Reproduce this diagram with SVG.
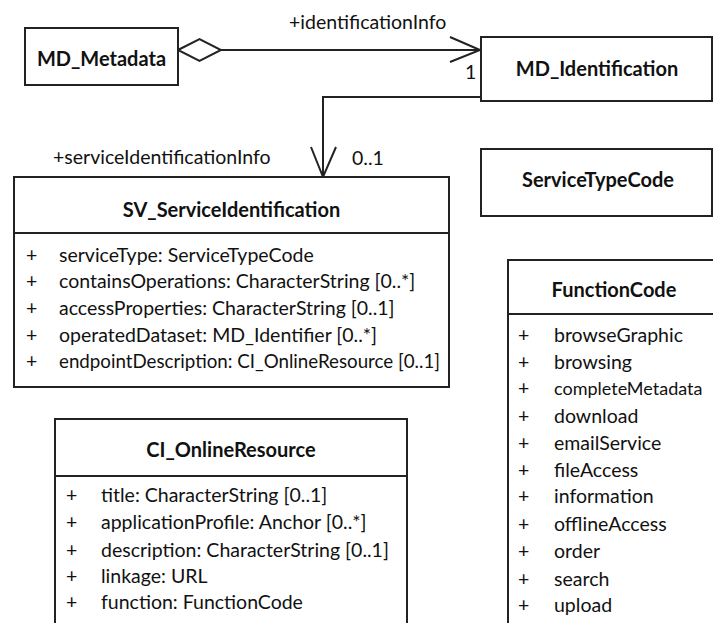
<svg xmlns="http://www.w3.org/2000/svg" width="713" height="623" viewBox="0 0 713 623">
<style>
.box{fill:#fff;stroke:#222;stroke-width:2}
.div{stroke:#222;stroke-width:2}
.t{font-family:Lato,"Liberation Sans",sans-serif;font-size:19.5px;fill:#111}
.b{font-family:Lato,"Liberation Sans",sans-serif;font-size:20px;font-weight:bold;fill:#111;text-anchor:middle}
.c{fill:none;stroke:#222;stroke-width:2}
</style>
<rect width="713" height="623" fill="#fff"/>
<g id="connectors">
<line class="c" x1="221" y1="50" x2="481" y2="50"/>
<polygon points="178,50 199.5,39 221,50 199.5,61" fill="#fff" stroke="#222" stroke-width="2"/>
<polyline class="c" points="450,37 480,50 450,62"/>
<polyline class="c" points="481,97 323,97 323,177"/>
<polyline class="c" points="311,147 323,177 336,147"/>
<text class="t" x="289" y="29">+identificationInfo</text>
<text class="t" x="465" y="79">1</text>
<text class="t" x="53" y="164">+serviceIdentificationInfo</text>
<text class="t" x="352" y="165">0..1</text>
</g>
<g id="MD_Metadata">
<rect class="box" x="25" y="28" width="153" height="57"/>
<text class="b" x="101.5" y="66">MD_Metadata</text>
</g>
<g id="MD_Identification">
<rect class="box" x="481" y="37" width="231" height="64"/>
<text class="b" x="597" y="76">MD_Identification</text>
</g>
<g id="ServiceTypeCode">
<rect class="box" x="481" y="149" width="231" height="67"/>
<text class="b" x="598" y="187">ServiceTypeCode</text>
</g>
<g id="SV_ServiceIdentification">
<rect class="box" x="14" y="177" width="435" height="210"/>
<line class="div" x1="14" y1="233" x2="449" y2="233"/>
<text class="b" x="231.5" y="217">SV_ServiceIdentification</text>
<g class="t">
<text x="26" y="262">+</text><text x="59" y="262">serviceType: ServiceTypeCode</text>
<text x="26" y="288">+</text><text x="59" y="288">containsOperations: CharacterString [0..*]</text>
<text x="26" y="315">+</text><text x="59" y="315">accessProperties: CharacterString [0..1]</text>
<text x="26" y="342">+</text><text x="59" y="342">operatedDataset: MD_Identifier [0..*]</text>
<text x="26" y="368">+</text><text x="59" y="368" textLength="381" lengthAdjust="spacingAndGlyphs">endpointDescription: CI_OnlineResource [0..1]</text>
</g>
</g>
<g id="FunctionCode">
<rect class="box" x="508" y="260" width="240" height="400"/>
<line class="div" x1="508" y1="314" x2="748" y2="314"/>
<text class="b" x="614" y="297">FunctionCode</text>
<g class="t">
<text x="518" y="342">+</text><text x="554" y="342">browseGraphic</text>
<text x="518" y="369">+</text><text x="554" y="369">browsing</text>
<text x="518" y="395">+</text><text x="554" y="395" style="font-size:18px">completeMetadata</text>
<text x="518" y="423">+</text><text x="554" y="423">download</text>
<text x="518" y="450">+</text><text x="554" y="450">emailService</text>
<text x="518" y="477">+</text><text x="554" y="477">fileAccess</text>
<text x="518" y="503">+</text><text x="554" y="503">information</text>
<text x="518" y="531">+</text><text x="554" y="531">offlineAccess</text>
<text x="518" y="558">+</text><text x="554" y="558">order</text>
<text x="518" y="586">+</text><text x="554" y="586">search</text>
<text x="518" y="612">+</text><text x="554" y="612">upload</text>
</g>
</g>
<g id="CI_OnlineResource">
<rect class="box" x="55" y="419" width="352" height="240"/>
<line class="div" x1="55" y1="476" x2="407" y2="476"/>
<text class="b" x="231" y="457">CI_OnlineResource</text>
<g class="t">
<text x="66" y="502">+</text><text x="101" y="502">title: CharacterString [0..1]</text>
<text x="66" y="529">+</text><text x="101" y="529">applicationProfile: Anchor [0..*]</text>
<text x="66" y="557">+</text><text x="101" y="557">description: CharacterString [0..1]</text>
<text x="66" y="583">+</text><text x="101" y="583">linkage: URL</text>
<text x="66" y="609">+</text><text x="101" y="609">function: FunctionCode</text>
</g>
</g>
</svg>
